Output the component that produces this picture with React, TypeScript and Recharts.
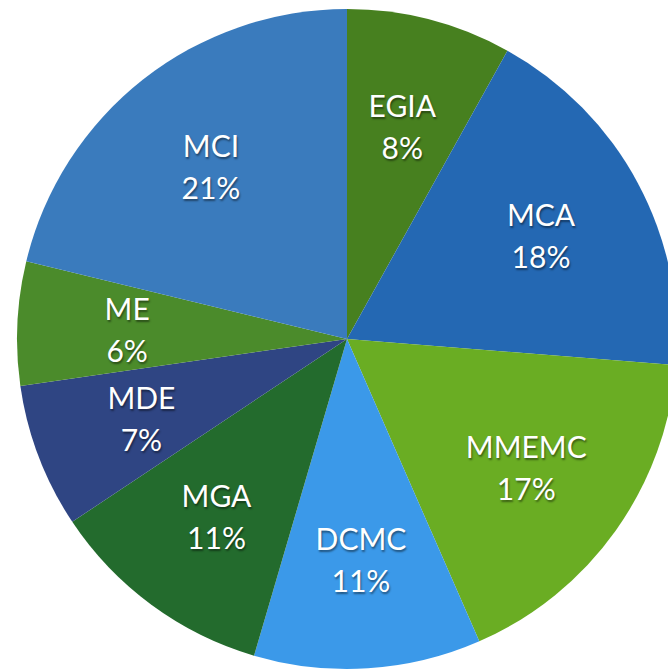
import React from 'react';
import { PieChart, Pie, Cell } from 'recharts';

const categories = ['EGIA', 'MCA', 'MMEMC', 'DCMC', 'MGA', 'MDE', 'ME', 'MCI'];
const shares = [8, 18, 17, 11, 11, 7, 6, 21];
const colors = ['#47801f', '#2468b3', '#6aad23', '#3b99e9', '#236b2d', '#2f4583', '#4b8b2b', '#3a7bbd'];

const data = categories.map((name, i) => ({ name, value: shares[i] }));

const RAD = Math.PI / 180;

const renderLabel = (props: any) => {
  const { cx, cy, midAngle, outerRadius, name, value } = props;
  const r = outerRadius * 0.667;
  const x = cx + r * Math.cos(-midAngle * RAD);
  const y = cy + r * Math.sin(-midAngle * RAD);
  const style = {
    fontFamily: 'Lato, "Open Sans", sans-serif',
    fontSize: 30,
    fontWeight: 400,
    fill: '#ffffff',
    textShadow: '1px 2px 2px rgba(0,0,0,0.45)',
  } as React.CSSProperties;
  return (
    <g>
      <text x={x} y={y - 21} textAnchor="middle" dominantBaseline="central" style={style}>
        {name}
      </text>
      <text x={x} y={y + 21} textAnchor="middle" dominantBaseline="central" style={style}>
        {value}%
      </text>
    </g>
  );
};

export default function App() {
  return (
    <div style={{ position: 'absolute', left: 0, top: 0, width: 668, height: 670, background: '#ffffff' }}>
      <PieChart width={668} height={670} margin={{ top: 0, right: 0, bottom: 0, left: 0 }}>
        <Pie
          data={data}
          dataKey="value"
          nameKey="name"
          cx={347}
          cy={339}
          outerRadius={330}
          startAngle={90}
          endAngle={-270}
          stroke="none"
          labelLine={false}
          label={renderLabel}
          isAnimationActive={false}
        >
          {data.map((d, i) => (
            <Cell key={d.name} fill={colors[i]} />
          ))}
        </Pie>
      </PieChart>
    </div>
  );
}
